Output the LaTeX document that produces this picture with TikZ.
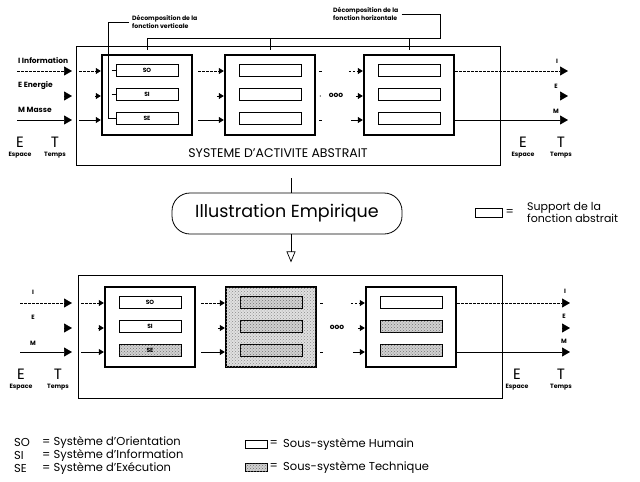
\documentclass[tikz,border=0pt]{standalone}
\usepackage{fontspec}
\setmainfont{Poppins}
\usetikzlibrary{positioning}
\usetikzlibrary{arrows.meta}
\usetikzlibrary{calc}
\usetikzlibrary{patterns}

\tikzset{
  unitbox/.style={draw, line width=2.4pt, minimum width=90pt, minimum height=80pt, inner sep=0pt},
  subbox/.style={draw, line width=0.8pt, minimum width=62pt, minimum height=12pt, inner sep=0pt, font=\fontsize{6}{6}\selectfont\bfseries},
  stipple/.style={fill=black!18, postaction={pattern=crosshatch dots, pattern color=black!55}},
  techsub/.style={subbox, stipple},
  frame/.style={draw, line width=0.8pt, inner sep=0pt},
  flow/.style={line width=0.7pt, -{Triangle[length=8pt,width=9pt]}},
  infoflow/.style={flow, dash pattern=on 2.5pt off 1.5pt},
  inflow/.style={line width=0.7pt, -{Triangle[length=5pt,width=6pt]}},
  ininfo/.style={inflow, dash pattern=on 2.5pt off 1.5pt},
  tiny/.style={font=\fontsize{6.2}{6.5}\selectfont\bfseries, inner sep=0pt},
  small/.style={font=\fontsize{7.5}{7.5}\selectfont\bfseries, inner sep=0pt},
  bigletter/.style={font=\fontsize{15}{15}\selectfont, inner sep=0pt},
  legend/.style={font=\fontsize{11.5}{11}\selectfont, inner sep=0pt},
}

\begin{document}
\begin{tikzpicture}[x=1pt, y=-1pt]
  \useasboundingbox (0,0) rectangle (640,482);

  % rows of the flows
  \coordinate (rowI) at (0,71);
  \coordinate (rowE) at (0,96);
  \coordinate (rowM) at (0,120);
  \coordinate (rowIb) at (0,303);
  \coordinate (rowEb) at (0,328);
  \coordinate (rowMb) at (0,352);
  \coordinate (hbar) at (0,38);

  %%% abstract system
  \node[frame, minimum width=424pt, minimum height=119pt] (abs) at (288,105.5) {};
  \node[unitbox] (a1) at (147,95) {};
  \node[unitbox] (a2) at (270,95) {};
  \node[unitbox] (a3) at (409,95) {};
  \node[subbox] (a1so) at (147,70) {SO};
  \node[subbox] (a1si) at (147,94) {SI};
  \node[subbox] (a1se) at (147,118) {SE};
  \foreach \u in {a2,a3} {
    \node[subbox] (\u so) at (\u.center |- 0,70) {};
    \node[subbox] (\u si) at (\u.center |- 0,94) {};
    \node[subbox] (\u se) at (\u.center |- 0,118) {};
  }
  \node[font=\fontsize{12.5}{12.5}\selectfont, inner sep=0pt] (abstitle) at (278,153) {SYSTEME D'ACTIVITE ABSTRAIT};

  % inputs
  \node[small, anchor=west] (inI) at (18,61) {I Information};
  \node[small, anchor=west] (inE) at (18,86) {E Energie};
  \node[small, anchor=west] (inM) at (18,110) {M Masse};
  \draw[infoflow] (17,71) -- (72,71);
  \draw[flow] (64,96) -- (72,96);
  \draw[flow] (17,120) -- (72,120);
  \draw[ininfo] (79,71) -- (a1.west |- rowI);
  \draw[inflow] (95,96) -- (a1.west |- rowE);
  \draw[inflow] (79,120) -- (a1.west |- rowM);

  % between the units
  \draw[ininfo] ($(a1.east |- rowI)+(5,0)$) -- (a2.west |- rowI);
  \draw[inflow] ($(a2.west |- rowE)+(-7,0)$) -- (a2.west |- rowE);
  \draw[inflow] ($(a1.east |- rowM)+(5,0)$) -- (a2.west |- rowM);
  \draw[line width=0.7pt] ($(a2.east |- rowI)+(3,0)$) -- +(3,0);
  \draw[line width=0.7pt] ($(a2.east |- rowM)+(3,0)$) -- +(3,0);
  \fill ($(a2.east |- rowE)+(4,0)$) circle (0.6pt);
  \node[small] (dotsa) at (336,95) {ooo};
  \draw[ininfo] ($(a3.west |- rowI)+(-14,0)$) -- (a3.west |- rowI);
  \draw[inflow] ($(a3.west |- rowE)+(-7,0)$) -- (a3.west |- rowE);
  \draw[inflow] ($(a3.west |- rowM)+(-12,0)$) -- (a3.west |- rowM);

  % outputs
  \draw[infoflow] (a3.east |- rowI) -- (568,71);
  \draw[flow] (560,96) -- (568,96);
  \draw[flow] (a3.east |- rowM) -- (568,120);
  \node[tiny] (outI) at (557,61) {I};
  \node[tiny] (outE) at (556,86) {E};
  \node[tiny] (outM) at (556,111) {M};

  % decompositions
  \node[tiny, anchor=west, align=left] (decv) at (132,22) {Décomposition de la\\fonction verticale};
  \draw[line width=0.7pt] ([xshift=-3pt]decv.west) -- (108,22) |- (a1se.west);
  \draw[line width=0.7pt] ([xshift=-4pt]a1so.west) -- (a1so.west);
  \draw[line width=0.7pt] ([xshift=-4pt]a1si.west) -- (a1si.west);
  \node[tiny, anchor=west, align=left] (dech) at (333,14) {Décomposition de la\\fonction horizontale};
  \draw[line width=0.7pt] ([xshift=3pt]dech.east) -| (440,38) -- (147,38);
  \foreach \u in {a1,a2,a3}
    \draw[line width=0.7pt] (\u.north |- hbar) -- +(0,12);

  %%% empirical illustration
  \node[draw, line width=0.8pt, rounded corners=18pt, minimum width=230pt, minimum height=41pt,
        font=\fontsize{17.5}{17.5}\selectfont] (emp) at (287,213.5) {Illustration Empirique};
  \draw[line width=0.7pt] ([xshift=4pt]emp.north) -- +(0,-15);
  \draw[line width=0.7pt, -{Triangle[open, length=11pt, width=9pt]}] ([xshift=4pt]emp.south) -- +(0,28);

  \node[frame, minimum width=27pt, minimum height=9pt] (lgsup) at (488.5,212.5) {};
  \node[legend, anchor=west] (lgeq) at ([xshift=3pt]lgsup.east) {=};
  \node[legend, font=\fontsize{11}{11}\selectfont, anchor=west, align=left] (lgtxt) at (527,212.5) {Support de la\\fonction abstrait};

  %%% empirical system
  \node[frame, minimum width=424pt, minimum height=123pt] (emps) at (290,336.5) {};
  \node[unitbox, fill=black!12, postaction={pattern=crosshatch dots, pattern color=black!45}] (b2) at (271,327) {};
  \node[unitbox] (b1) at (150,327) {};
  \node[unitbox] (b3) at (411,327) {};
  \node[subbox] (b1so) at (150,302) {SO};
  \node[subbox] (b1si) at (150,326) {SI};
  \node[techsub] (b1se) at (150,350) {SE};
  \node[techsub] (b2so) at (271,302) {};
  \node[techsub] (b2si) at (271,326) {};
  \node[techsub] (b2se) at (271,350) {};
  \node[subbox] (b3so) at (411,302) {};
  \node[techsub] (b3si) at (411,326) {};
  \node[techsub] (b3se) at (411,350) {};

  % inputs
  \node[tiny] (inIb) at (33,292) {I};
  \node[tiny] (inEb) at (33,317) {E};
  \node[tiny] (inMb) at (33,343) {M};
  \draw[infoflow] (20,303) -- (72,303);
  \draw[flow] (64,328) -- (72,328);
  \draw[flow] (20,352) -- (72,352);
  \draw[ininfo] (81,303) -- (b1.west |- rowIb);
  \draw[inflow] (98,328) -- (b1.west |- rowEb);
  \draw[inflow] (81,352) -- (b1.west |- rowMb);

  % between the units
  \draw[ininfo] ($(b1.east |- rowIb)+(5,0)$) -- (b2.west |- rowIb);
  \draw[inflow] ($(b2.west |- rowEb)+(-7,0)$) -- (b2.west |- rowEb);
  \draw[inflow] ($(b1.east |- rowMb)+(5,0)$) -- (b2.west |- rowMb);
  \draw[line width=0.7pt] ($(b2.east |- rowIb)+(3,0)$) -- +(3,0);
  \draw[line width=0.7pt] ($(b2.east |- rowMb)+(3,0)$) -- +(3,0);
  \node[small] (dotsb) at (337,327) {ooo};
  \draw[ininfo] ($(b3.west |- rowIb)+(-14,0)$) -- (b3.west |- rowIb);
  \draw[inflow] ($(b3.west |- rowEb)+(-7,0)$) -- (b3.west |- rowEb);
  \draw[inflow] ($(b3.west |- rowMb)+(-12,0)$) -- (b3.west |- rowMb);

  % outputs
  \draw[infoflow] (b3.east |- rowIb) -- (570,303);
  \draw[flow] (562,328) -- (570,328);
  \draw[flow] (b3.east |- rowMb) -- (570,352);
  \node[tiny] (outIb) at (565,291) {I};
  \node[tiny] (outEb) at (564,316) {E};
  \node[tiny] (outMb) at (564,341) {M};

  % space and time
  \foreach \ex/\tx/\ey/\n in {20/55/142/1, 523/561/142/2, 21/58/374/3, 517/561/374/4} {
    \node[bigletter] (space\n) at (\ex,\ey) {E};
    \node[bigletter] (time\n) at (\tx,\ey) {T};
    \node[tiny, below=5pt of space\n] (spacetxt\n) {Espace};
    \node[tiny, below=5pt of time\n] (timetxt\n) {Temps};
  }

  %%% legend
  \node[legend, anchor=west] (kso) at (14,442) {SO};
  \node[legend, anchor=west] (ksi) at (14,455) {SI};
  \node[legend, anchor=west] (kse) at (14,468) {SE};
  \node[legend, anchor=west] (kso2) at (42,442) {= Système d'Orientation};
  \node[legend, anchor=west] (ksi2) at (42,455) {= Système d'Information};
  \node[legend, anchor=west] (kse2) at (42,468) {= Système d'Exécution};

  \node[frame, minimum width=22pt, minimum height=8pt] (lghum) at (256,444) {};
  \node[legend, anchor=west] (lghumeq) at ([xshift=2pt]lghum.east) {=};
  \node[legend, anchor=west] (lghumtxt) at (283,444) {Sous-système Humain};
  \node[frame, stipple, minimum width=22pt, minimum height=8pt] (lgtec) at (256,467) {};
  \node[legend, anchor=west] (lgteceq) at ([xshift=2pt]lgtec.east) {=};
  \node[legend, anchor=west] (lgtectxt) at (283,467) {Sous-système Technique};
\end{tikzpicture}
\end{document}
